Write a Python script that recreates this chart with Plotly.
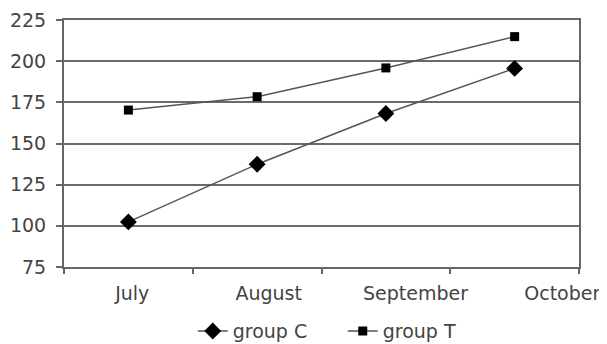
import plotly.graph_objects as go

months = ["July", "August", "September", "October"]
group_c = [102.4, 137.4, 168.2, 195.6]
group_t = [170.3, 178.4, 195.9, 214.9]
y_ticks = [75, 100, 125, 150, 175, 200, 225]
label_pos = [0.03, 1.09, 2.23, 3.37]

x_idx = list(range(len(months)))
font = dict(family="DejaVu Sans", size=19, color="#444444")

fig = go.Figure()
fig.add_trace(go.Scatter(
    x=x_idx, y=group_c, name="group C", mode="lines+markers",
    line=dict(color="#555555", width=1.5),
    marker=dict(symbol="diamond", size=13, color="#000000"),
))
fig.add_trace(go.Scatter(
    x=x_idx, y=group_t, name="group T", mode="lines+markers",
    line=dict(color="#555555", width=1.5),
    marker=dict(symbol="square", size=9, color="#000000"),
))
fig.add_trace(go.Scatter(x=[label_pos[0]], y=[None], xaxis="x2", showlegend=False,
                         hoverinfo="skip"))

# page body adds an 8px offset; figure size/margins compensate for it
fig.update_layout(
    width=599, height=336,
    margin=dict(l=56, r=28, t=12, b=77, autoexpand=False),
    paper_bgcolor="white", plot_bgcolor="white",
    font=font,
    showlegend=True,
    legend=dict(orientation="h", x=0.25, xanchor="left", y=-0.26, yanchor="middle",
                font=dict(family="DejaVu Sans", size=19, color="#444444"),
                itemwidth=30, entrywidth=105, entrywidthmode="pixels",
                tracegroupgap=0),
    xaxis=dict(
        range=[-0.5, 3.5], tickmode="array",
        tickvals=[-0.5, 0.5, 1.5, 2.5, 3.5], showticklabels=False,
        ticks="outside", ticklen=5, tickcolor="#666666", tickwidth=1.5,
        showgrid=False, zeroline=False, automargin=False,
        showline=True, linecolor="#666666", linewidth=2, mirror=True,
    ),
    xaxis2=dict(
        overlaying="x", side="bottom", range=[-0.5, 3.5], automargin=False,
        tickmode="array", tickvals=label_pos, ticktext=months,
        showgrid=False, zeroline=False, showline=False, ticks="",
        tickfont=font, ticklabelstandoff=13, ticklabeloverflow="allow",
    ),
    yaxis=dict(
        range=[75, 225], tickmode="array", tickvals=y_ticks, automargin=False,
        ticks="outside", ticklen=6, tickcolor="#666666", tickwidth=1.5,
        showgrid=True, gridcolor="#6a6a6a", gridwidth=2,
        zeroline=False, showline=True, linecolor="#666666", linewidth=2,
        mirror=True, tickfont=font, ticklabelstandoff=6,
    ),
)

fig.write_html("out.html")
